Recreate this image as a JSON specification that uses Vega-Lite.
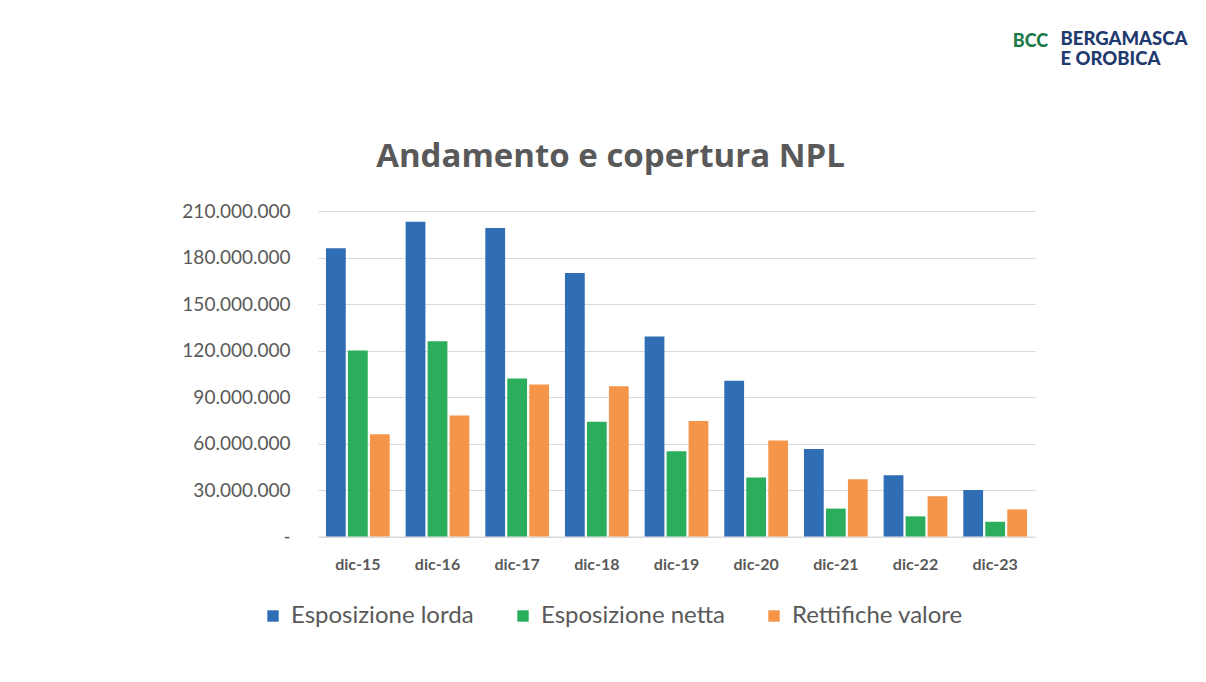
{
  "$schema": "https://vega.github.io/schema/vega-lite/v6.json",
  "autosize": "none",
  "width": 717,
  "height": 325.5,
  "padding": {"left": 318, "top": 211, "right": 171, "bottom": 145.5},
  "background": "white",
  "title": {
    "text": "Andamento e copertura NPL",
    "anchor": "middle",
    "frame": "group",
    "dx": -66,
    "dy": 180,
    "offset": 36,
    "font": "Open Sans",
    "fontSize": 33,
    "fontWeight": "bold",
    "color": "#595959"
  },
  "data": {
    "values": [
      {"periodo": "dic-15", "serie": "Esposizione lorda", "valore": 186000000},
      {"periodo": "dic-15", "serie": "Esposizione netta", "valore": 120000000},
      {"periodo": "dic-15", "serie": "Rettifiche valore", "valore": 66000000},
      {"periodo": "dic-16", "serie": "Esposizione lorda", "valore": 203000000},
      {"periodo": "dic-16", "serie": "Esposizione netta", "valore": 126000000},
      {"periodo": "dic-16", "serie": "Rettifiche valore", "valore": 78000000},
      {"periodo": "dic-17", "serie": "Esposizione lorda", "valore": 199000000},
      {"periodo": "dic-17", "serie": "Esposizione netta", "valore": 102000000},
      {"periodo": "dic-17", "serie": "Rettifiche valore", "valore": 98000000},
      {"periodo": "dic-18", "serie": "Esposizione lorda", "valore": 170000000},
      {"periodo": "dic-18", "serie": "Esposizione netta", "valore": 74000000},
      {"periodo": "dic-18", "serie": "Rettifiche valore", "valore": 97000000},
      {"periodo": "dic-19", "serie": "Esposizione lorda", "valore": 129000000},
      {"periodo": "dic-19", "serie": "Esposizione netta", "valore": 55000000},
      {"periodo": "dic-19", "serie": "Rettifiche valore", "valore": 74500000},
      {"periodo": "dic-20", "serie": "Esposizione lorda", "valore": 100500000},
      {"periodo": "dic-20", "serie": "Esposizione netta", "valore": 38000000},
      {"periodo": "dic-20", "serie": "Rettifiche valore", "valore": 62000000},
      {"periodo": "dic-21", "serie": "Esposizione lorda", "valore": 56500000},
      {"periodo": "dic-21", "serie": "Esposizione netta", "valore": 18000000},
      {"periodo": "dic-21", "serie": "Rettifiche valore", "valore": 37000000},
      {"periodo": "dic-22", "serie": "Esposizione lorda", "valore": 39500000},
      {"periodo": "dic-22", "serie": "Esposizione netta", "valore": 13000000},
      {"periodo": "dic-22", "serie": "Rettifiche valore", "valore": 26000000},
      {"periodo": "dic-23", "serie": "Esposizione lorda", "valore": 30000000},
      {"periodo": "dic-23", "serie": "Esposizione netta", "valore": 9500000},
      {"periodo": "dic-23", "serie": "Rettifiche valore", "valore": 17500000}
    ]
  },
  "mark": {"type": "bar"},
  "encoding": {
    "x": {
      "field": "periodo",
      "type": "nominal",
      "sort": null,
      "scale": {"paddingInner": 0.2, "paddingOuter": 0.1},
      "axis": {
        "title": ["BERGAMASCA", "E OROBICA"],
        "titleX": 742,
        "titleY": -492,
        "titleAlign": "left",
        "titleBaseline": "alphabetic",
        "titleAnchor": null,
        "titleAngle": 0,
        "titleFont": "Lato",
        "titleFontSize": 18.5,
        "titleFontWeight": 900,
        "titleColor": "#1f3a6e",
        "titleLineHeight": 20,
        "labelAngle": 0,
        "labelFont": "Lato",
        "labelFontSize": 16,
        "labelFontWeight": "bold",
        "labelColor": "#595959",
        "labelPadding": 20,
        "ticks": false,
        "domain": true,
        "domainColor": "#d9d9d9"
      }
    },
    "xOffset": {
      "field": "serie",
      "type": "nominal",
      "scale": {"paddingInner": 0.1}
    },
    "y": {
      "field": "valore",
      "type": "quantitative",
      "scale": {"domain": [0, 210000000], "nice": false},
      "axis": {
        "title": "BCC",
        "titleX": 712,
        "titleY": -165,
        "titleAngle": 0,
        "titleAlign": "center",
        "titleBaseline": "alphabetic",
        "titleAnchor": null,
        "titleFont": "Lato",
        "titleFontSize": 18,
        "titleFontWeight": 900,
        "titleColor": "#1e7a4a",
        "values": [0, 30000000, 60000000, 90000000, 120000000, 150000000, 180000000, 210000000],
        "labelExpr": "datum.value == 0 ? '-' : replace(format(datum.value, ',d'), regexp(',', 'g'), '.')",
        "labelFont": "Lato",
        "labelFontSize": 19,
        "labelColor": "#595959",
        "labelPadding": 28,
        "ticks": false,
        "domain": false,
        "grid": true,
        "gridColor": "#d9d9d9",
        "gridWidth": 1.2
      }
    },
    "color": {
      "field": "serie",
      "type": "nominal",
      "scale": {
        "domain": ["Esposizione lorda", "Esposizione netta", "Rettifiche valore"],
        "range": ["#2F6DB5", "#2BAE5C", "#F5954A"]
      },
      "legend": {
        "title": null,
        "orient": "none",
        "direction": "horizontal",
        "legendX": -57,
        "legendY": 393,
        "symbolType": "square",
        "symbolSize": 130,
        "symbolStrokeWidth": 0,
        "labelFont": "Lato",
        "labelFontSize": 24,
        "labelColor": "#595959",
        "labelOffset": 6,
        "columnPadding": 37,
        "labelLimit": 300
      }
    }
  },
  "config": {
    "view": {"stroke": null}
  }
}
